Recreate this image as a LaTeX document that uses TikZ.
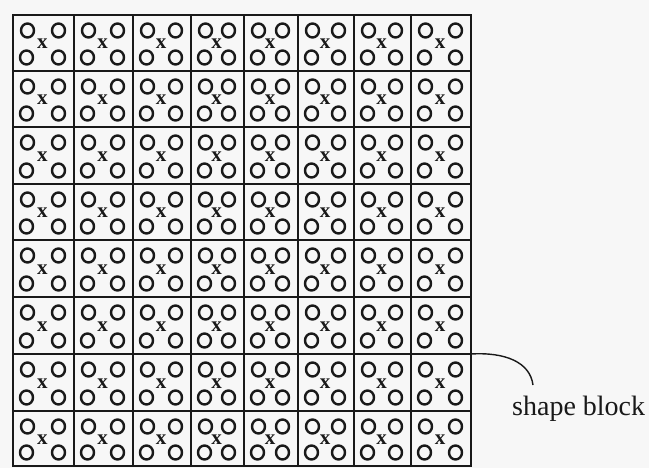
\documentclass[tikz,border=0pt]{standalone}
\usepackage{fontspec}
\setmainfont{Liberation Serif}
\begin{document}
\begin{tikzpicture}[x=1pt,y=-1pt,
  gridline/.style={line width=1.7pt, draw=black!90},
  border/.style={line width=2pt, draw=black!90},
  ring/.style={line width=2.4pt, draw=black!90},
  cross/.style={font=\fontsize{21}{21}\selectfont\bfseries, inner sep=0pt, text=black!90},
  leader/.style={line width=1.4pt, draw=black!90},
  lbl/.style={font=\fontsize{28}{30}\selectfont, inner sep=0pt, text=black!90}]
\fill[black!3] (0,0) rectangle (649,468);
\useasboundingbox (0,0) rectangle (649,468);
\def\colx{{13,74,133,191,244,298,354,411,471}}
\def\rowy{{15,71,127,184,240,297,354,411,466}}
\foreach \i in {0,...,7}{
  \foreach \j in {0,...,7}{
    \pgfmathsetmacro\xl{\colx[\i]}
    \pgfmathsetmacro\xr{\colx[\i+1]}
    \pgfmathsetmacro\yt{\rowy[\j]}
    \pgfmathsetmacro\yb{\rowy[\j+1]}
    \draw[ring] (\xl+14.5,\yt+15.5) ellipse [x radius=6.5, y radius=7];
    \draw[ring] (\xr-15.5,\yt+15.5) ellipse [x radius=6.5, y radius=7];
    \draw[ring] (\xl+13.5,\yb-13.5) ellipse [x radius=6.5, y radius=7];
    \draw[ring] (\xr-15.5,\yb-13.5) ellipse [x radius=6.5, y radius=7];
    \node[cross] (x-\i-\j) at ({(\xl+\xr)/2-1},{(\yt+\yb)/2+1}) {x};
  }
}
\foreach \i in {1,...,7}{
  \pgfmathsetmacro\xx{\colx[\i]}
  \draw[gridline] (\xx,15) -- (\xx,466);
  \pgfmathsetmacro\yy{\rowy[\i]}
  \draw[gridline] (13,\yy) -- (471,\yy);
}
\draw[border] (13,15) rectangle (471,466);
\coordinate (blk) at (471,354);
\coordinate (leadend) at (533,385);
\node[lbl, anchor=base west] (label) at (512,415) {shape block};
\draw[leader] (blk) .. controls (505,352) and (530,362) .. (leadend);
\end{tikzpicture}
\end{document}
